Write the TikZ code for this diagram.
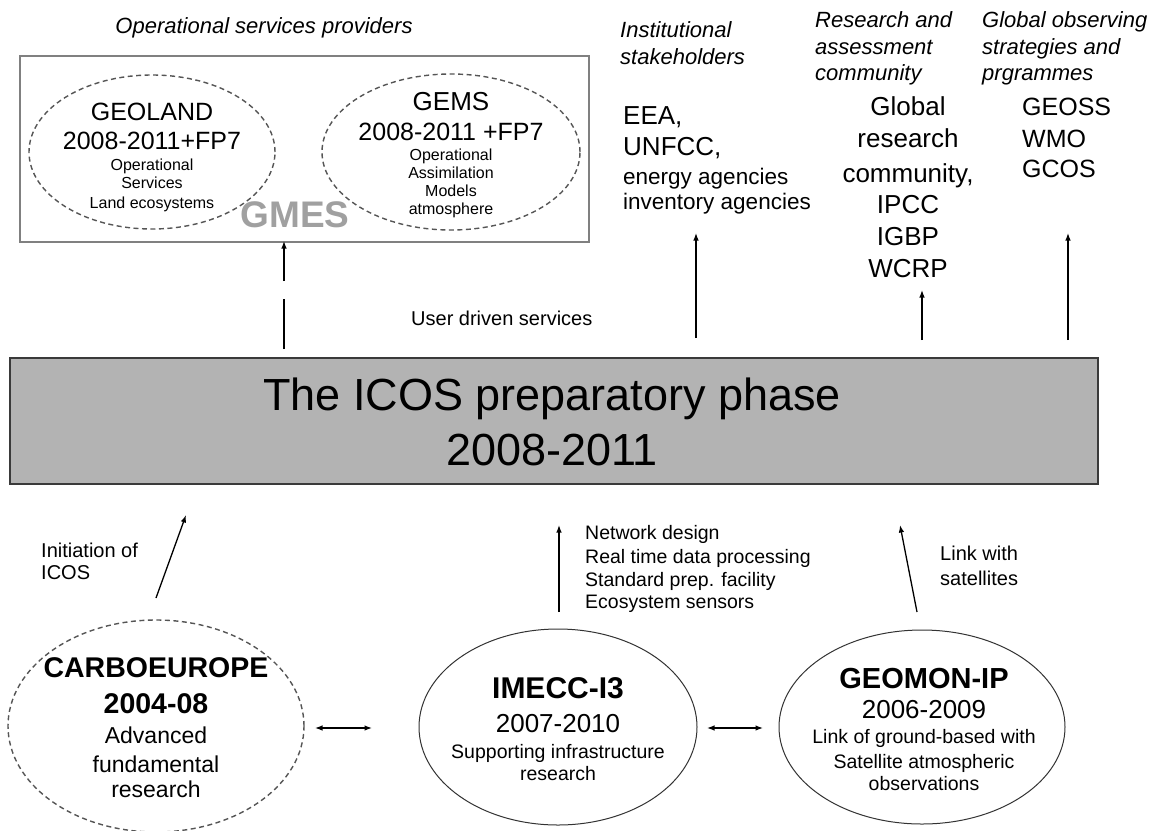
\documentclass[tikz,border=0pt]{standalone}
\usepackage{fontspec}
\setmainfont{Liberation Sans}
\usetikzlibrary{arrows.meta,shapes.geometric}
\newcommand{\fsz}[1]{\fontsize{#1}{#1}\selectfont}
\definecolor{boxgray}{HTML}{B3B3B3}
\definecolor{edgegray}{HTML}{3A3A3A}
\definecolor{framegray}{HTML}{808080}
\definecolor{dashgray}{HTML}{555555}
\definecolor{gmesgray}{HTML}{A0A0A0}
\tikzset{
  txt/.style={inner sep=0pt, anchor=base},
  txtl/.style={inner sep=0pt, anchor=base west},
  hdr/.style={txtl, font=\fsz{22}\itshape},
  dashell/.style={ellipse, draw=dashgray, line width=1.4pt, dash pattern=on 5pt off 3.5pt, inner sep=0pt},
  solell/.style={ellipse, draw=black!80, line width=1pt, inner sep=0pt},
  arr/.style={-{Latex[length=7.5pt,width=5.5pt]}, line width=1.3pt},
  darr/.style={{Latex[length=7.5pt,width=5.5pt]}-{Latex[length=7.5pt,width=5.5pt]}, line width=1.3pt},
}
\begin{document}
\begin{tikzpicture}[x=1pt,y=-1pt]
\useasboundingbox (0,0) rectangle (1161,830);
\fill[white] (0,0) rectangle (1161,830);

% ---------- top left: operational services providers ----------
\node[txt, font=\fsz{22}\itshape] (ophdr) at (264,33) {Operational services providers};
\node[draw=framegray, line width=1.5pt, minimum width=569pt, minimum height=186pt, inner sep=0pt] (opbox) at (304.5,149) {};
\node[dashell, minimum width=246pt, minimum height=154pt] (geoland) at (152,152) {};
\node[dashell, minimum width=258pt, minimum height=156pt] (gems) at (451,152) {};

\node[txt, font=\fsz{25}] (gl1) at (152,120) {GEOLAND};
\node[txt, font=\fsz{25}] (gl2) at (152,149) {2008-2011+FP7};
\node[txt, font=\fsz{16}] (gl3) at (152,170) {Operational};
\node[txt, font=\fsz{16}] (gl4) at (152,188) {Services};
\node[txt, font=\fsz{16}] (gl5) at (152,208) {Land ecosystems};

\node[txt, font=\fsz{26}] (gm1) at (451,110) {GEMS};
\node[txt, font=\fsz{25}] (gm2) at (451,140) {2008-2011 +FP7};
\node[txt, font=\fsz{16}] (gm3) at (451,160) {Operational};
\node[txt, font=\fsz{16}] (gm4) at (451,178) {Assimilation};
\node[txt, font=\fsz{16}] (gm5) at (451,196) {Models};
\node[txt, font=\fsz{16}] (gm6) at (451,214) {atmosphere};

\node[txt, font=\fsz{37}\bfseries, text=gmesgray] (gmes) at (295,227) {GMES};

% ---------- institutional stakeholders ----------
\node[hdr] (is1) at (620,37) {Institutional};
\node[hdr] (is2) at (620,64) {stakeholders};
\node[txtl, font=\fsz{26}] (ee1) at (623,124) {EEA,};
\node[txtl, font=\fsz{26}] (ee2) at (623,155) {UNFCC,};
\node[txtl, font=\fsz{22.5}] (ee3) at (623,184) {energy agencies};
\node[txtl, font=\fsz{22.5}] (ee4) at (623,209) {inventory agencies};

% ---------- research and assessment community ----------
\node[hdr] (ra1) at (815,27) {Research and};
\node[hdr] (ra2) at (815,54) {assessment};
\node[hdr] (ra3) at (815,80) {community};
\node[txt, font=\fsz{26}] (rc1) at (908,115) {Global};
\node[txt, font=\fsz{26}] (rc2) at (908,147) {research};
\node[txt, font=\fsz{26}] (rc3) at (908,182) {community,};
\node[txt, font=\fsz{26}] (rc4) at (908,213) {IPCC};
\node[txt, font=\fsz{26}] (rc5) at (908,245) {IGBP};
\node[txt, font=\fsz{26}] (rc6) at (908,277) {WCRP};

% ---------- global observing strategies ----------
\node[hdr] (go1) at (982,27) {Global observing};
\node[hdr] (go2) at (982,54) {strategies and};
\node[hdr] (go3) at (982,80) {prgrammes};
\node[txtl, font=\fsz{25}] (gs1) at (1022,115) {GEOSS};
\node[txtl, font=\fsz{25}] (gs2) at (1022,147) {WMO};
\node[txtl, font=\fsz{25}] (gs3) at (1022,177) {GCOS};

\node[txtl, font=\fsz{20}] (uds) at (411,325) {User driven services};

% ---------- central box ----------
\node[draw=edgegray, fill=boxgray, line width=1.5pt, minimum width=1088pt, minimum height=126pt, inner sep=0pt] (icos) at (554,421) {};
\node[txt, font=\fsz{45}] (ic1) at (552,410) {The ICOS preparatory phase};
\node[txt, font=\fsz{45}] (ic2) at (552,465) {2008-2011};

% ---------- bottom ellipses ----------
\node[dashell, minimum width=296pt, minimum height=212pt] (carbo) at (156,726) {};
\node[txt, font=\fsz{28.5}\bfseries] (cb1) at (156,677) {CARBOEUROPE};
\node[txt, font=\fsz{28.5}\bfseries] (cb2) at (156,713) {2004-08};
\node[txt, font=\fsz{23}] (cb3) at (156,743) {Advanced};
\node[txt, font=\fsz{23}] (cb4) at (156,772) {fundamental};
\node[txt, font=\fsz{23}] (cb5) at (156,797) {research};

\node[solell, minimum width=278pt, minimum height=196pt] (imecc) at (558,727) {};
\node[txt, font=\fsz{30}\bfseries] (im1) at (558,698) {IMECC-I3};
\node[txt, font=\fsz{26}] (im2) at (558,732) {2007-2010};
\node[txt, font=\fsz{19.5}] (im3) at (558,758) {Supporting infrastructure};
\node[txt, font=\fsz{19.5}] (im4) at (558,780) {research};

\node[solell, minimum width=286pt, minimum height=194pt] (geomon) at (922,727) {};
\node[txt, font=\fsz{29}\bfseries] (gn1) at (924,688) {GEOMON-IP};
\node[txt, font=\fsz{26}] (gn2) at (924,718) {2006-2009};
\node[txt, font=\fsz{19.5}] (gn3) at (924,743) {Link of ground-based with};
\node[txt, font=\fsz{19.5}] (gn4) at (924,768) {Satellite atmospheric};
\node[txt, font=\fsz{19.5}] (gn5) at (924,790) {observations};

% ---------- bottom labels ----------
\node[txtl, font=\fsz{20}] (in1) at (41,557) {Initiation of};
\node[txtl, font=\fsz{20}] (in2) at (41,579) {ICOS};
\node[txtl, font=\fsz{19.5}] (nd1) at (585,539) {Network design};
\node[txtl, font=\fsz{19.5}] (nd2) at (585,563) {Real time data processing};
\node[txtl, font=\fsz{19.5}] (nd3) at (585,586) {Standard prep. facility};
\node[txtl, font=\fsz{19.5}] (nd4) at (585,608) {Ecosystem sensors};
\node[txtl, font=\fsz{20}] (lw1) at (940,560) {Link with};
\node[txtl, font=\fsz{20}] (lw2) at (940,585) {satellites};

% ---------- connector end points ----------
\coordinate (u1s) at (284,349);  \coordinate (u1e) at (284,241);
\coordinate (u2s) at (696,338);  \coordinate (u2e) at (696,233);
\coordinate (u3s) at (922,340);  \coordinate (u3e) at (922,290);
\coordinate (u4s) at (1068,340); \coordinate (u4e) at (1068,233);
\coordinate (b1s) at (156,598);  \coordinate (b1e) at (186,515);
\coordinate (b2s) at (559,612);  \coordinate (b2e) at (559,525);
\coordinate (b3s) at (917,612);  \coordinate (b3e) at (900,525);
\coordinate (h1s) at (315,728);  \coordinate (h1e) at (372,728);
\coordinate (h2s) at (707,728);  \coordinate (h2e) at (763,728);

% ---------- connectors ----------
\draw[arr, dash pattern=on 50pt off 18pt on 200pt] (u1s) -- (u1e);
\draw[arr] (u2s) -- (u2e);
\draw[arr] (u3s) -- (u3e);
\draw[arr] (u4s) -- (u4e);
\draw[arr] (b1s) -- (b1e);
\draw[arr] (b2s) -- (b2e);
\draw[arr] (b3s) -- (b3e);
\draw[darr] (h1s) -- (h1e);
\draw[darr] (h2s) -- (h2e);
\end{tikzpicture}
\end{document}
